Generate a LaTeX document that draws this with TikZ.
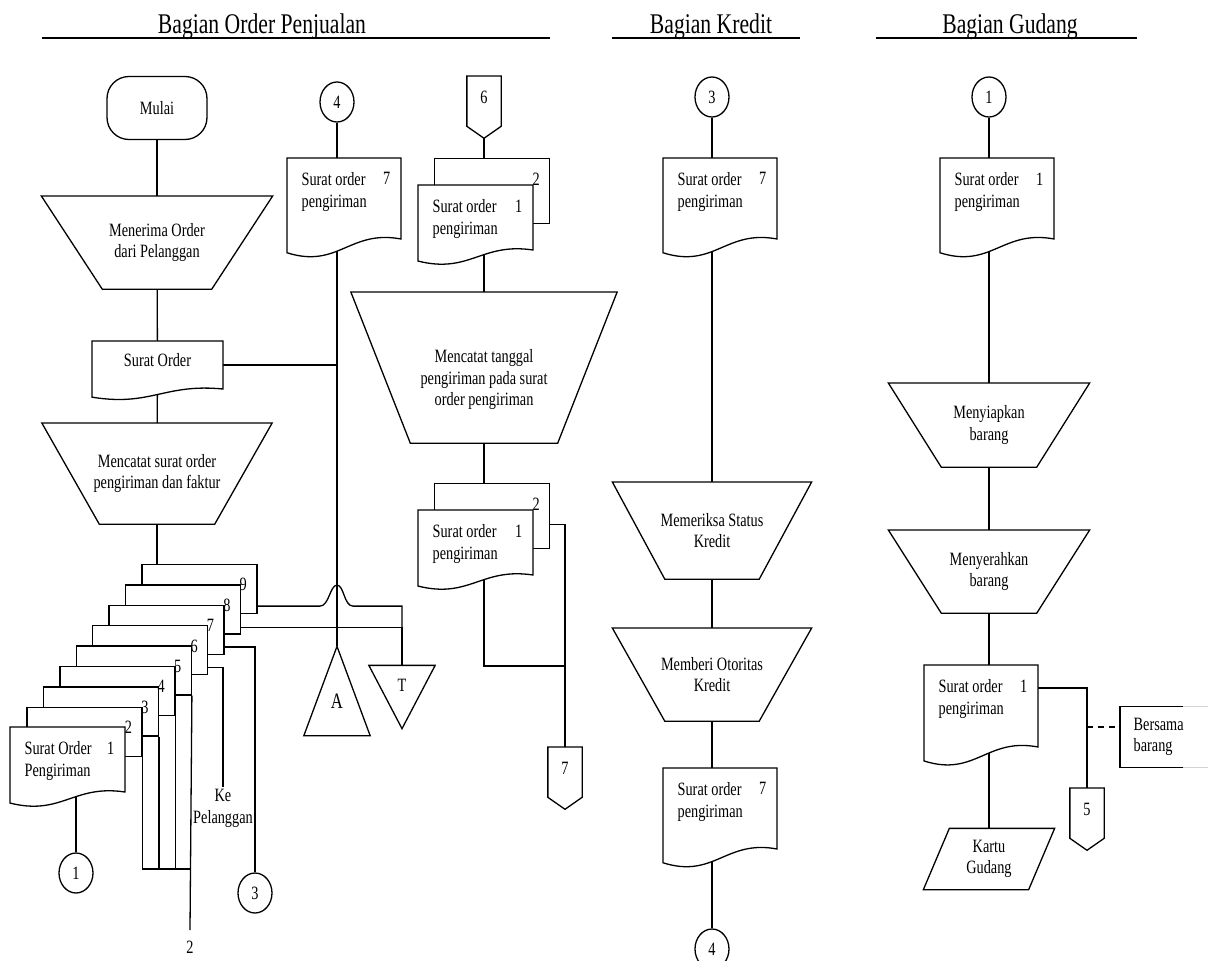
\documentclass[tikz,border=0pt]{standalone}
\usepackage{fontspec}
\setmainfont{Liberation Serif}[FakeStretch=0.76]
\usetikzlibrary{positioning,calc,backgrounds,shapes.geometric}

\tikzset{
  edge/.style={draw, line width=1.3pt},
  shapeline/.style={edge, fill=white},
  docbox/.style={inner sep=0pt, outer sep=0pt},
  backdoc/.style={shapeline, inner sep=0pt, minimum width=115, minimum height=49, anchor=north west},
  doctext/.style={inner sep=0pt, align=left},
  doctl/.style={anchor=north west, xshift=14pt, yshift=-14pt},
  docmid/.style={anchor=north, xshift=65.5pt, yshift=-12pt},
  docnum/.style={anchor=north east, xshift=-10pt, yshift=-14pt},
  trapbox/.style={align=center, inner sep=0pt},
  pagebox/.style={inner sep=0pt, minimum width=33, minimum height=61},
  tribox/.style={inner sep=0pt},
  conn/.style={shapeline, ellipse, inner sep=0pt, minimum width=34, minimum height=40},
  term/.style={shapeline, rounded corners=22pt, minimum width=100, minimum height=63},
  head/.style={font=\fontsize{28.5}{30}\selectfont, anchor=base},
  flow/.style={line width=1.3pt},
}

% dokumen: [posisi teks]{nama}{kiri}{atas}{lebar}{tinggi}{teks}{nomor}
\newcommand{\docu}[8][doctl]{%
  \node[docbox, minimum width=#5, minimum height=#6, anchor=north west] (#2) at (#3,#4) {};
  \draw[shapeline] (#2.north west) -- (#2.north east) -- (#2.south east)
    .. controls +(-0.45*#5,-0.12*#6) and +(0.45*#5,0.2*#6) .. ($(#2.south west)+(0,0.17*#6)$) -- cycle;
  \node[doctext, #1] (#2-t) at (#2.north west) {#7};
  \node[doctext, docnum] (#2-n) at (#2.north east) {#8};
}

% proses manual: [geser teks]{nama}{x}{atas}{lebar atas}{lebar bawah}{tinggi}{teks}
\newcommand{\trap}[8][]{%
  \node[trapbox, minimum width=#5, minimum height=#7, anchor=north] (#2) at (#3,#4) {};
  \draw[edge] (#2.north west) -- (#2.north east) -- ([xshift={-(#5-#6)/2}]#2.south east)
    -- ([xshift={(#5-#6)/2}]#2.south west) -- cycle;
  \node[trapbox, #1] (#2-t) at (#2) {#8};
}

% penghubung halaman: {nama}{x}{atas}{label}
\newcommand{\offpage}[4]{%
  \node[pagebox, anchor=north] (#1) at (#2,#3) {};
  \draw[shapeline] (#1.north west) -- (#1.north east) -- ([yshift=12pt]#1.south east)
    -- (#1.south) -- ([yshift=12pt]#1.south west) -- cycle;
  \node (#1-t) at ([yshift=-21pt]#1.north) {#4};
}

\begin{document}
\begin{tikzpicture}[x=1pt, y=-1pt, line width=1.3pt, font=\fontsize{18.8}{21.5}\selectfont]
    \useasboundingbox (0,0) rectangle (1208,961);

    % judul bagian
    \node[head] (hOrder) at (262,34) {Bagian Order Penjualan};
    \node[head] (hKredit) at (711,34) {Bagian Kredit};
    \node[head] (hGudang) at (1010,34) {Bagian Gudang};
    \draw[edge] (42,38) -- (550,38);
    \draw[edge] (612,38) -- (800,38);
    \draw[edge] (876,38) -- (1137,38);

    % Bagian Order Penjualan
    \node[term] (start) at (157,108) {Mulai};
    \trap{recv}{157}{196}{230}{108}{92}{Menerima Order\\dari Pelanggan}
    \docu[docmid]{so}{92}{341}{131}{48}{Surat Order}{}
    \trap{rec1}{157}{423}{229}{114}{100}{Mencatat surat order\\pengiriman dan faktur}

    % tumpukan lembar 9..1
    \foreach \k in {9,8,...,2}
      \node[backdoc] (s\k) at ({10+(\k-1)*16.4},{727-(\k-1)*20.4}) {};
    \docu{s1}{10}{727}{115}{65}{Surat Order\\Pengiriman}{1}
    \foreach \k in {9,8,...,2}
      \node[doctext, docnum] (s\k-n) at (s\k.north east) {\k};

    \node[conn] (c1) at (76,873) {1};
    \node[conn] (c3) at (255,893) {3};
    \node[align=center, inner sep=2pt, anchor=north] (ke) at (223,787) {Ke\\Pelanggan};
    \coordinate (merge) at (190,869);
    \coordinate (end2) at (190,930);
    \node[below=10pt of end2, inner sep=0pt] (lbl2) {2};

    \node[tribox, minimum width=65, minimum height=88] (offA) at (337,691) {};
    \draw[shapeline] (offA.north) -- (offA.south east) -- (offA.south west) -- cycle;
    \node[font=\fontsize{22}{24}\selectfont] (offA-t) at ([yshift=-55pt]offA.north) {A};
    \node[tribox, minimum width=65, minimum height=62] (offT) at (402,697) {};
    \draw[shapeline] (offT.north west) -- (offT.north east) -- (offT.south) -- cycle;
    \node (offT-t) at ([yshift=-20pt]offT.north) {T};

    \node[conn] (c4) at (337,102) {4};
    \docu{doc4}{287}{158}{114}{81}{Surat order\\pengiriman}{7}

    \offpage{off6}{484}{76}{6}
    \node[backdoc, minimum height=65] (d6b) at (434,158) {};
    \docu{d6f}{418}{185}{115}{65}{Surat order\\pengiriman}{1}
    \node[doctext, docnum] (d6b-n) at (d6b.north east) {2};
    \trap[yshift=-12pt]{rec2}{484}{292}{265}{146}{150}{Mencatat tanggal\\pengiriman pada surat\\order pengiriman}
    \node[backdoc, minimum height=65] (d7b) at (434,483) {};
    \docu{d7f}{418}{510}{115}{65}{Surat order\\pengiriman}{1}
    \node[doctext, docnum] (d7b-n) at (d7b.north east) {2};
    \offpage{off7}{565}{747}{7}

    % Bagian Kredit
    \node[conn] (c3k) at (712,97) {3};
    \docu{dk1}{663}{158}{114}{81}{Surat order\\pengiriman}{7}
    \trap{chk}{712}{482}{198}{93}{96}{Memeriksa Status\\Kredit}
    \trap{auth}{712}{628}{198}{93}{92}{Memberi Otoritas\\Kredit}
    \docu{dk2}{663}{768}{114}{81}{Surat order\\pengiriman}{7}
    \node[conn] (c4k) at (712,949) {4};

    % Bagian Gudang
    \node[conn] (c1g) at (989,97) {1};
    \docu{dg1}{940}{158}{114}{81}{Surat order\\pengiriman}{1}
    \trap{prep}{989}{383}{200}{94}{83}{Menyiapkan\\barang}
    \trap{hand}{989}{530}{200}{94}{82}{Menyerahkan\\barang}
    \docu{dg2}{924}{665}{114}{82}{Surat order\\pengiriman}{1}
    \offpage{off5}{1087}{788}{5}
    \node[doctext, anchor=west, minimum height=60, inner xsep=13pt] (note) at (1120,737) {Bersama\\barang};
    \draw[edge] ([xshift=63pt]note.north west) -- (note.north west) -- (note.south west) -- ([xshift=63pt]note.south west);
    \draw[edge, gray!35] ([xshift=63pt]note.north west) -- ([xshift=88pt]note.north west)
                   ([xshift=63pt]note.south west) -- ([xshift=88pt]note.south west);
    \node[trapbox, minimum width=130, minimum height=60] (card) at (989,859) {Kartu\\Gudang};
    \draw[edge] ([xshift=26pt]card.north west) -- (card.north east) -- ([xshift=-26pt]card.south east) -- (card.south west) -- cycle;

    % garis alir
    \begin{scope}[on background layer]
        \fill[white] (0,0) rectangle (1208,961);
        \draw[flow] (start) -- (recv);
        \draw[flow] (recv) -- (so);
        \draw[flow] (so) -- (rec1);
        \draw[flow] (so.east) -- (so.east -| offA.north);
        \draw[flow] (rec1.south) -- (rec1.south |- s9.north);
        \draw[flow] (c1 |- s1.south) -- (c1);
        \draw[flow] (s2.south east) -- (s2.south east |- merge) -- (merge);
        \draw[flow] (s3.south east) -- (s3.south east |- merge);
        \draw[flow] (s4.south east) -- (s4.south east |- merge);
        \draw[flow] (s5.south east) -- (end2);
        \draw[flow] ([yshift=8pt]s6.south east) -| (ke);
        \draw[flow] ([yshift=8pt]s7.south east) -| (c3);
        \draw[flow] ([yshift=7pt]s8.south east) -| (offT);
        \coordinate (t9) at ([yshift=8pt]s9.south east);
        \coordinate (hop) at (t9 -| offA.north);
        \draw[flow] (t9) -- ([xshift=-17pt]hop) .. controls +(9,0) and +(-7,0) .. ([yshift=21pt]hop)
              .. controls +(7,0) and +(-9,0) .. ([xshift=16pt]hop) -| (offT);

        \draw[flow] (c4) -- (c4 |- doc4.north);
        \draw[flow] (c4 |- doc4.south) -- (offA);

        \draw[flow] (off6) -- (off6 |- d6b.north);
        \draw[flow] (off6 |- d6f.south) -- (rec2);
        \draw[flow] (rec2) -- (rec2 |- d7b.north);
        \coordinate (j7) at ([yshift=81pt]off7.north);
        \draw[flow] (rec2 |- d7f.south) |- (j7);
        \draw[flow] ([yshift=-8pt]d7b.east) -| (off7);

        \draw[flow] (c3k) -- (c3k |- dk1.north);
        \draw[flow] (c3k |- dk1.south) -- (chk);
        \draw[flow] (chk) -- (auth);
        \draw[flow] (auth) -- (auth |- dk2.north);
        \draw[flow] (auth |- dk2.south) -- (c4k);

        \draw[flow] (c1g) -- (c1g |- dg1.north);
        \draw[flow] (c1g |- dg1.south) -- (prep);
        \draw[flow] (prep) -- (hand);
        \draw[flow] (hand) -- (hand |- dg2.north);
        \draw[flow] (hand |- dg2.south) -- (card);
        \draw[flow] ([yshift=-23pt]dg2.north east) -| (off5);
        \coordinate (dash) at ([yshift=10pt]note.west);
        \draw[flow, dashed, dash pattern=on 6pt off 5pt] (dash -| off5) -- (dash);
    \end{scope}
\end{tikzpicture}
\end{document}
